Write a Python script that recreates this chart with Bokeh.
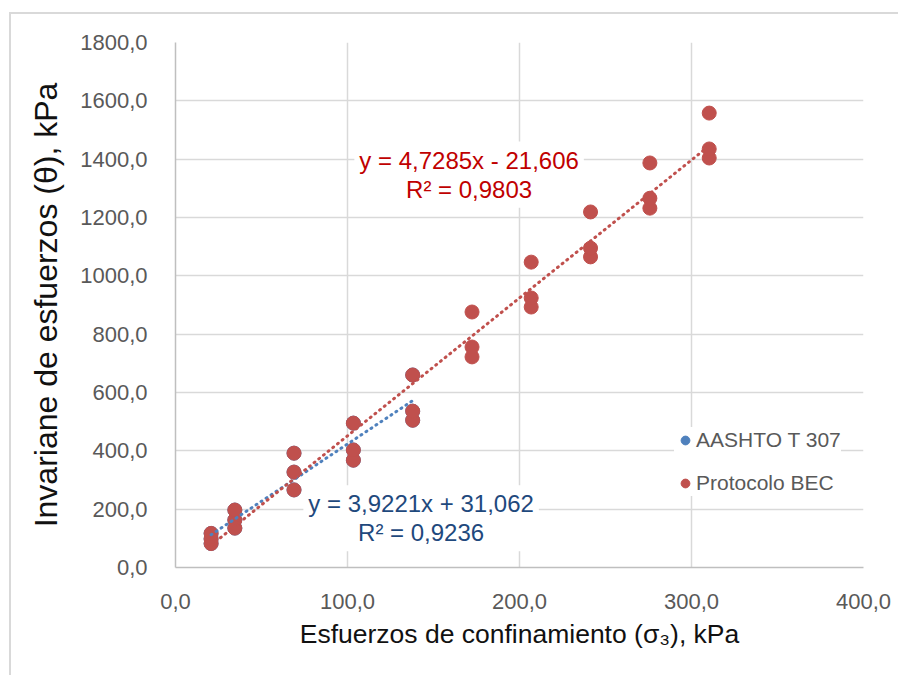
from bokeh.plotting import figure
from bokeh.models import (Range1d, FixedTicker, CustomJSTickFormatter, Legend,
                          LegendItem, Label, Title)
from bokeh.embed import file_html
from bokeh.resources import INLINE

# Confining stress sigma3 (kPa) and stress invariant theta (kPa)
aashto_sigma3 = [20.7, 20.7, 20.7, 34.5, 34.5, 34.5, 68.9, 68.9, 68.9,
                 103.4, 103.4, 103.4, 137.9, 137.9, 137.9]
aashto_theta = [82, 98, 117, 135, 163, 197, 266, 327, 392,
                368, 403, 495, 505, 536, 660]

bec_sigma3 = [20.7, 20.7, 20.7, 34.5, 34.5, 34.5, 68.9, 68.9, 68.9,
              103.4, 103.4, 103.4, 137.9, 137.9, 137.9, 172.4, 172.4, 172.4,
              206.8, 206.8, 206.8, 241.3, 241.3, 241.3, 275.8, 275.8, 275.8,
              310.3, 310.3, 310.3]
bec_theta = [82, 98, 117, 135, 163, 197, 266, 327, 392,
             368, 403, 495, 505, 536, 660, 722, 756, 876,
             893, 924, 1047, 1065, 1095, 1219, 1232, 1266, 1387,
             1404, 1435, 1558]

# Linear trendlines: slope, intercept, R²
aashto_slope, aashto_intercept, aashto_r2 = 3.9221, 31.062, 0.9236
bec_slope, bec_intercept, bec_r2 = 4.7285, -21.606, 0.9803

x_ticks = [0, 100, 200, 300, 400]
y_ticks = [0, 200, 400, 600, 800, 1000, 1200, 1400, 1600, 1800]

BLUE = "#4F81BD"
RED = "#C0504D"
FONT = "Liberation Sans"


def dec(v):
    return f"{v}".replace(".", ",")


def equation(slope, intercept):
    sign = "-" if intercept < 0 else "+"
    return f"y = {dec(slope)}x {sign} {dec(abs(intercept))}"


# The chart sits inside a thin light-gray frame, offset from the page corner
p = figure(width=889, height=663, x_range=Range1d(0, 400), y_range=Range1d(0, 1800),
           output_backend="svg", toolbar_location=None,
           min_border_left=163, min_border_right=37, min_border_top=28,
           min_border_bottom=110,
           styles={"margin-left": "9px", "margin-top": "12px",
                   "border-left": "2px solid #d9d9d9", "border-top": "2px solid #d9d9d9"})
p.outline_line_color = None
p.background_fill_color = "white"
p.border_fill_color = "white"

for g in (p.xgrid, p.ygrid):
    g.grid_line_color = "#d9d9d9"
    g.grid_line_width = 1.5

p.xaxis.ticker = FixedTicker(ticks=x_ticks)
p.yaxis.ticker = FixedTicker(ticks=y_ticks)
fmt = CustomJSTickFormatter(code="return tick.toFixed(1).replace('.', ',');")
for ax in (p.xaxis[0], p.yaxis[0]):
    ax.formatter = fmt
    ax.axis_line_color = "#bfbfbf"
    ax.axis_line_width = 1.5
    ax.major_tick_line_color = None
    ax.minor_tick_line_color = None
    ax.major_label_text_font = FONT
    ax.major_label_text_font_size = "22px"
    ax.major_label_text_color = "#595959"
    ax.axis_label_text_font = FONT
    ax.axis_label_text_font_size = "26.5px"
    ax.axis_label_text_font_style = "normal"
    ax.axis_label_text_color = "#111111"

p.xaxis.axis_label = "Esfuerzos de confinamiento (σ₃), kPa"
p.xaxis.major_label_standoff = 20
p.xaxis.axis_label_standoff = 7
p.yaxis.major_label_standoff = 22

# Y-axis title
ytitle = Title(text="Invariane de esfuerzos (θ), kPa", align="center",
               text_font=FONT, text_font_size="32px", text_font_style="normal",
               text_color="#111111")
try:
    ytitle.standoff = 28
except AttributeError:
    pass
p.add_layout(ytitle, "left")

# Data points (AASHTO first, BEC drawn over it)
r_aashto = p.scatter(aashto_sigma3, aashto_theta, size=14, fill_color=BLUE, line_color=BLUE)
r_bec = p.scatter(bec_sigma3, bec_theta, size=14, fill_color=RED, line_color=RED)

# Dotted trendlines over each series' range
ax0, ax1 = min(aashto_sigma3), max(aashto_sigma3)
p.line([ax0, ax1], [aashto_slope * ax0 + aashto_intercept, aashto_slope * ax1 + aashto_intercept],
       line_color=BLUE, line_width=3, line_dash="1 5", line_cap="round")
bx0, bx1 = min(bec_sigma3), max(bec_sigma3)
p.line([bx0, bx1], [bec_slope * bx0 + bec_intercept, bec_slope * bx1 + bec_intercept],
       line_color=RED, line_width=3, line_dash="1 5", line_cap="round")


# Trendline equations (two lines each, on a white box)
def add_equation(x, y, slope, intercept, r2, color):
    p.add_layout(Label(x=x, y=y, text=f"{equation(slope, intercept)}\nR² = {dec(r2)}",
                       text_align="center", text_baseline="middle",
                       text_font=FONT, text_font_size="24px", text_color=color,
                       text_line_height=1.08,
                       background_fill_color="white", padding=5))


add_equation(170.7, 1347, bec_slope, bec_intercept, bec_r2, "#C00000")
add_equation(142.8, 169, aashto_slope, aashto_intercept, aashto_r2, "#1F497D")

legend = Legend(items=[LegendItem(label="AASHTO T 307", renderers=[r_aashto]),
                       LegendItem(label="Protocolo BEC", renderers=[r_bec])],
                location=(499, 71), orientation="vertical",
                label_text_font=FONT, label_text_font_size="21px",
                label_text_color="#595959", glyph_width=22, glyph_height=26,
                label_height=26, label_standoff=0, spacing=17, padding=10,
                margin=0, border_line_color=None, background_fill_color="white",
                background_fill_alpha=1.0)
p.add_layout(legend)

open("out.html", "w").write(file_html(p, INLINE))
